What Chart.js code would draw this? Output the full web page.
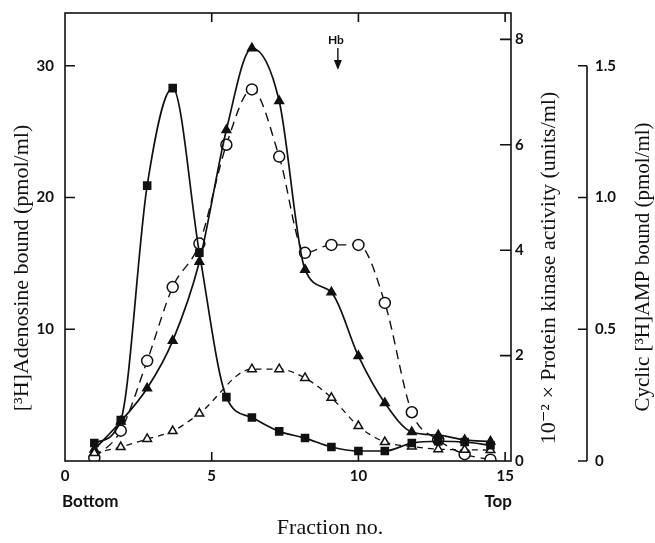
<!DOCTYPE html>
<html>
<head>
<meta charset="utf-8">
<script src="https://cdn.jsdelivr.net/npm/chart.js@4.4.1/dist/chart.umd.min.js"></script>
<style>
  html, body { margin: 0; padding: 0; background: #fff; }
  #wrap { width: 655px; height: 543px; }
</style>
</head>
<body>
<div id="wrap"><canvas id="fig" width="655" height="543"></canvas></div>
<script>
// fraction positions (shared by all curves)
const fractions = [1.0, 1.9, 2.8, 3.67, 4.58, 5.5, 6.37, 7.3, 8.18, 9.08, 10.0, 10.9, 11.82, 12.72, 13.62, 14.5];

// [3H]adenosine bound, pmol/ml (filled squares)
const adenosineBound = [1.36, 3.1, 20.9, 28.3, 15.8, 4.85, 3.3, 2.25, 1.74, 1.06, 0.76, 0.76, 1.36, 1.5, 1.44, 1.2];
// second adenosine profile, pmol/ml (open triangles) - hidden point at 5.5
const adenosineBound2 = [0.6, 1.06, 1.67, 2.27, 3.6, null, 6.97, 6.97, 6.3, 4.8, 2.65, 1.44, 1.1, 0.9, 0.85, 0.83];
// 10^-2 x protein kinase activity, units/ml (filled triangles)
const kinaseActivity = [0.22, 0.75, 1.38, 2.28, 3.78, 6.28, 7.83, 6.83, 3.63, 3.2, 1.99, 1.1, 0.55, 0.49, 0.4, 0.37];
// cyclic [3H]AMP bound, pmol/ml (open circles)
const campBound = [0.012, 0.115, 0.38, 0.66, 0.825, 1.2, 1.41, 1.155, 0.79, 0.82, 0.82, 0.6, 0.185, 0.08, 0.026, 0.005];

// tick labels
const xTicks = [0, 5, 10, 15];
const adenosineTicks = [10, 20, 30];
const kinaseTicks = [0, 2, 4, 6, 8];
const campTicks = [0, 0.5, 1.0, 1.5];

const tickFont = { family: 'Lato', weight: 'bold', size: 15 };
const serif = '"Liberation Serif", "DejaVu Serif", serif';

function pts(vals) {
    return fractions.map((x, i) => ({ x: x, y: vals[i] }));
}

function vText(ctx, text, x, y) {
    ctx.save();
    ctx.translate(x, y);
    ctx.rotate(-Math.PI / 2);
    ctx.textAlign = 'center';
    ctx.textBaseline = 'middle';
    ctx.fillText(text, 0, 0);
    ctx.restore();
}

function fixWidth(w) {
    return s => { s.width = w; s.paddingTop = 0; s.paddingBottom = 0; };
}

// frame, inward ticks, the short cAMP axis and all titles
const axisDecor = {
    id: 'axisDecor',
    afterDraw(chart) {
        const { ctx, chartArea: a } = chart;
        const sx = chart.scales.x, sy = chart.scales.y;
        const sk = chart.scales.yKinase, sc = chart.scales.yCamp;
        ctx.save();
        ctx.strokeStyle = '#111';
        ctx.lineWidth = 1.6;
        ctx.strokeRect(a.left, a.top, a.right - a.left, a.bottom - a.top);

        ctx.beginPath();
        xTicks.slice(1).forEach(v => {
            const px = sx.getPixelForValue(v);
            ctx.moveTo(px, a.bottom); ctx.lineTo(px, a.bottom - 9);
            ctx.moveTo(px, a.top); ctx.lineTo(px, a.top + 9);
        });
        adenosineTicks.forEach(v => {
            const py = sy.getPixelForValue(v);
            ctx.moveTo(a.left, py); ctx.lineTo(a.left + 10, py);
        });
        kinaseTicks.slice(1).forEach(v => {
            const py = sk.getPixelForValue(v);
            ctx.moveTo(a.right, py); ctx.lineTo(a.right - 11, py);
        });
        const cx = sc.left;
        ctx.moveTo(cx, sc.getPixelForValue(0)); ctx.lineTo(cx, sc.getPixelForValue(1.5));
        campTicks.forEach(v => {
            const py = sc.getPixelForValue(v);
            ctx.moveTo(cx, py); ctx.lineTo(cx - 9, py);
        });
        ctx.stroke();

        // Hb marker
        const hx = sx.getPixelForValue(9.3);
        ctx.fillStyle = '#111';
        ctx.font = 'bold 12px Lato';
        ctx.textAlign = 'center';
        ctx.textBaseline = 'middle';
        ctx.fillText('Hb', hx - 2, a.top + 27);
        ctx.lineWidth = 1.4;
        ctx.beginPath();
        ctx.moveTo(hx, a.top + 35); ctx.lineTo(hx, a.top + 55);
        ctx.stroke();
        ctx.beginPath();
        ctx.moveTo(hx - 4, a.top + 47); ctx.lineTo(hx, a.top + 57); ctx.lineTo(hx + 4, a.top + 47);
        ctx.closePath();
        ctx.fill();

        // Bottom / Top
        ctx.font = 'bold 17px Lato';
        ctx.textBaseline = 'middle';
        ctx.textAlign = 'left';
        ctx.fillText('Bottom', a.left - 3, 502);
        ctx.textAlign = 'right';
        ctx.fillText('Top', a.right + 1, 502);

        // axis titles
        ctx.font = '22px ' + serif;
        ctx.textAlign = 'center';
        ctx.fillText('Fraction no.', 330, 528);
        vText(ctx, '[\u00B3H]Adenosine bound (pmol/ml)', 22, 268);
        vText(ctx, '10\u207B\u00B2 \u00D7 Protein kinase activity (units/ml)', 549, 268);
        ctx.font = '21px ' + serif;
        vText(ctx, 'Cyclic [\u00B3H]AMP bound (pmol/ml)', 643, 267);
        ctx.restore();
    }
};

const line = { borderColor: '#111', borderWidth: 1.7, pointBorderColor: '#111', pointBorderWidth: 1.5,
               cubicInterpolationMode: 'monotone', spanGaps: true, fill: false };

new Chart(document.getElementById('fig'), {
    type: 'line',
    data: {
        datasets: [
            Object.assign({}, line, {
                label: '[3H]Adenosine bound', data: pts(adenosineBound), yAxisID: 'y',
                pointStyle: 'rect', pointRadius: 5, pointBackgroundColor: '#111'
            }),
            Object.assign({}, line, {
                label: '[3H]Adenosine bound (2)', data: pts(adenosineBound2), yAxisID: 'y',
                borderDash: [6, 5], borderWidth: 1.3,
                pointStyle: 'triangle', pointRadius: 5, pointBackgroundColor: '#fff'
            }),
            Object.assign({}, line, {
                label: 'Protein kinase activity', data: pts(kinaseActivity), yAxisID: 'yKinase',
                pointStyle: 'triangle', pointRadius: 5, pointBackgroundColor: '#111'
            }),
            Object.assign({}, line, {
                label: 'Cyclic [3H]AMP bound', data: pts(campBound), yAxisID: 'yCamp',
                borderDash: [9, 6], borderWidth: 1.4,
                pointStyle: 'circle', pointRadius: 5.5, pointBackgroundColor: '#fff'
            })
        ]
    },
    options: {
        responsive: false,
        animation: false,
        devicePixelRatio: 1,
        layout: { padding: { top: 13, left: 0, right: 0, bottom: 0 } },
        plugins: { legend: { display: false }, tooltip: { enabled: false } },
        scales: {
            x: {
                type: 'linear', min: 0, max: 15.2,
                afterBuildTicks: s => { s.ticks = xTicks.map(v => ({ value: v })); },
                afterFit: s => { s.height = 82; s.paddingLeft = 0; s.paddingRight = 0; },
                grid: { display: false, drawTicks: false },
                border: { display: false },
                ticks: { color: '#111', font: tickFont, padding: 6, maxRotation: 0 }
            },
            y: {
                type: 'linear', position: 'left', min: 0, max: 34,
                afterBuildTicks: s => { s.ticks = adenosineTicks.map(v => ({ value: v })); },
                afterFit: fixWidth(65),
                grid: { display: false, drawTicks: false },
                border: { display: false },
                ticks: { color: '#111', font: tickFont, padding: 11 }
            },
            yKinase: {
                type: 'linear', position: 'right', min: 0, max: 8.5,
                afterBuildTicks: s => { s.ticks = kinaseTicks.map(v => ({ value: v })); },
                afterFit: fixWidth(76),
                grid: { display: false, drawTicks: false },
                border: { display: false },
                ticks: { color: '#111', font: tickFont, padding: 4 }
            },
            yCamp: {
                type: 'linear', position: 'right', min: 0, max: 1.7,
                afterBuildTicks: s => { s.ticks = campTicks.map(v => ({ value: v })); },
                afterFit: fixWidth(68),
                grid: { display: false, drawTicks: false },
                border: { display: false },
                ticks: { color: '#111', font: tickFont, padding: 8,
                         callback: v => v === 0 ? '0' : v.toFixed(1) }
            }
        }
    },
    plugins: [axisDecor]
});
</script>
</body>
</html>
